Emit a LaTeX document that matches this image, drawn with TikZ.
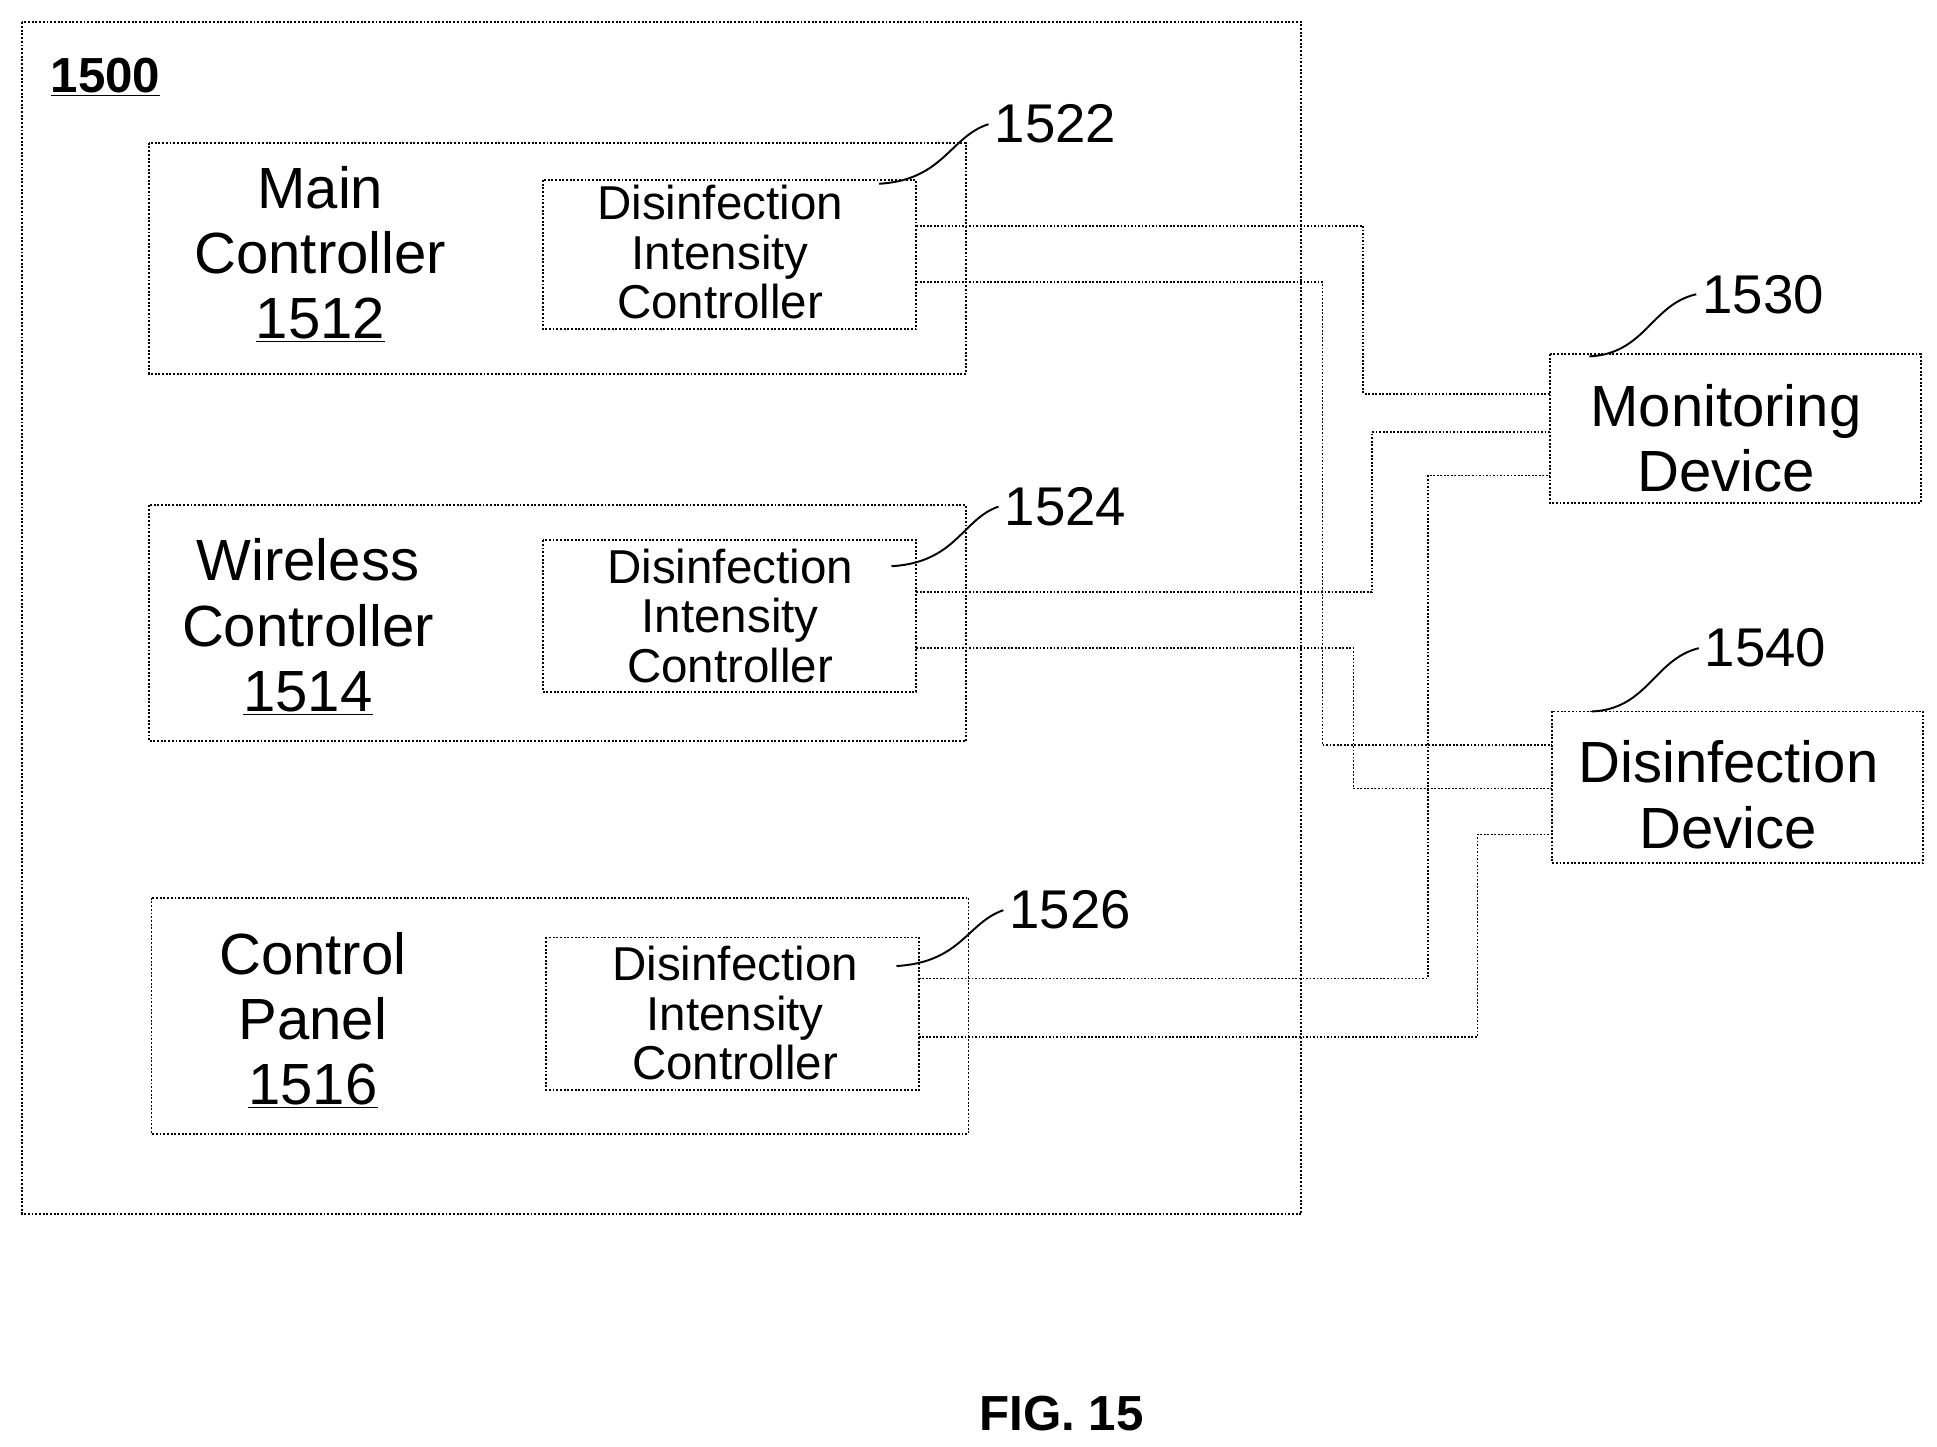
\documentclass[tikz,border=0pt]{standalone}
\usepackage{fontspec}
\setmainfont{Liberation Sans}
\begin{document}
\begin{tikzpicture}[x=0.0248cm,y=-0.0248cm,
  box/.style={draw,densely dotted,line width=1.1pt},
  wire/.style={draw,densely dotted,line width=1pt},
  big/.style={font=\fontsize{33}{37}\selectfont,align=center},
  small/.style={font=\fontsize{27}{28}\selectfont,align=center},
  lbl/.style={font=\fontsize{31}{32}\selectfont},
  lead/.style={draw,line width=1.1pt}]
\useasboundingbox (0,0) rectangle (1560,1165);
\draw[box] (18,18) rectangle (1048,978);
\node[font=\fontsize{28}{30}\bfseries\selectfont] (t1500) at (85,62) {\underline{1500}};
% blocks
\draw[box] (120,115) rectangle (778,301);
\node[big] (mc) at (258,205) {Main\\Controller\\\underline{1512}};
\draw[box] (437,145) rectangle (738,265);
\node[small] (d1) at (580,203) {Disinfection\\Intensity\\Controller};
\draw[box] (120,407) rectangle (778,597);
\node[big] (wc) at (248,505) {Wireless\\Controller\\\underline{1514}};
\draw[box] (437,435) rectangle (738,557);
\node[small] (d2) at (588,496) {Disinfection\\Intensity\\Controller};
\draw[box] (122,723) rectangle (780,913);
\node[big] (cp) at (252,822) {Control\\Panel\\\underline{1516}};
\draw[box] (440,755) rectangle (740,878);
\node[small] (d3) at (592,816) {Disinfection\\Intensity\\Controller};
\draw[box] (1248,285) rectangle (1547,405);
\node[big] (mon) at (1390,353) {Monitoring\\Device};
\draw[box] (1250,573) rectangle (1549,695);
\node[big] (dis) at (1392,640) {Disinfection\\Device};
% labels
\node[lbl] (l1522) at (850,100) {1522};
\draw[lead] (708,148) .. controls (760,145) and (765,110) .. (l1522.west);
\node[lbl] (l1524) at (858,408) {1524};
\draw[lead] (718,456) .. controls (770,453) and (775,418) .. (l1524.west);
\node[lbl] (l1526) at (862,733) {1526};
\draw[lead] (722,778) .. controls (774,775) and (779,743) .. (l1526.west);
\node[lbl] (l1530) at (1420,237) {1530};
\draw[lead] (1280,287) .. controls (1325,285) and (1330,245) .. (l1530.west);
\node[lbl] (l1540) at (1422,522) {1540};
\draw[lead] (1282,573) .. controls (1327,571) and (1332,531) .. (l1540.west);
% wires
\draw[wire] (738,182) -- (1098,182) -- (1098,317) -- (1248,317);
\draw[wire] (738,227) -- (1065,227) -- (1065,600) -- (1250,600);
\draw[wire] (738,477) -- (1105,477) -- (1105,348) -- (1248,348);
\draw[wire] (738,522) -- (1090,522) -- (1090,635) -- (1250,635);
\draw[wire] (740,788) -- (1150,788) -- (1150,383) -- (1248,383);
\draw[wire] (740,835) -- (1190,835) -- (1190,672) -- (1250,672);
\node[font=\fontsize{28}{30}\bfseries\selectfont] (fig) at (855,1138) {FIG. 15};
\end{tikzpicture}
\end{document}
